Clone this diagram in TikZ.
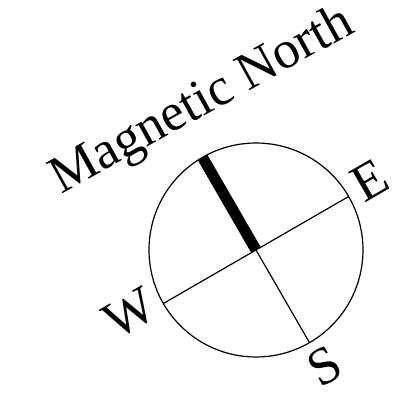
\documentclass[tikz,border=0pt]{standalone}
\usepackage{fontspec}
\setmainfont{Liberation Serif}
\begin{document}
\begin{tikzpicture}[x=1pt,y=1pt,
  ring/.style={draw=black,line width=1.2pt},
  axisline/.style={draw=black,line width=1.2pt},
  needle/.style={draw=black,line width=11pt,line cap=butt},
  bigtext/.style={inner sep=0pt,font=\fontsize{53}{60}\selectfont,rotate=29},
  dirtext/.style={inner sep=0pt,font=\fontsize{53}{60}\selectfont,rotate=30}]
\useasboundingbox (0,0) rectangle (416,416);
\coordinate (C) at (256,166);
\node[ring,circle,minimum size=214pt,inner sep=0pt] (dial) at (C) {};
\path (C) ++(30:107) coordinate (E1) (C) ++(210:107) coordinate (W1)
      (C) ++(120:107) coordinate (N1) (C) ++(300:107) coordinate (S1);
\draw[axisline] (W1) -- (E1);
\draw[axisline] (C) -- (S1);
\draw[needle] (C) -- (N1);
\node[bigtext,anchor=base] (title) at (209,303) {Magnetic North};
\node[dirtext] (lE) at (370,236) {E};
\node[dirtext] (lW) at (130,103) {W};
\node[dirtext] (lS) at (325,50) {S};
\end{tikzpicture}
\end{document}
